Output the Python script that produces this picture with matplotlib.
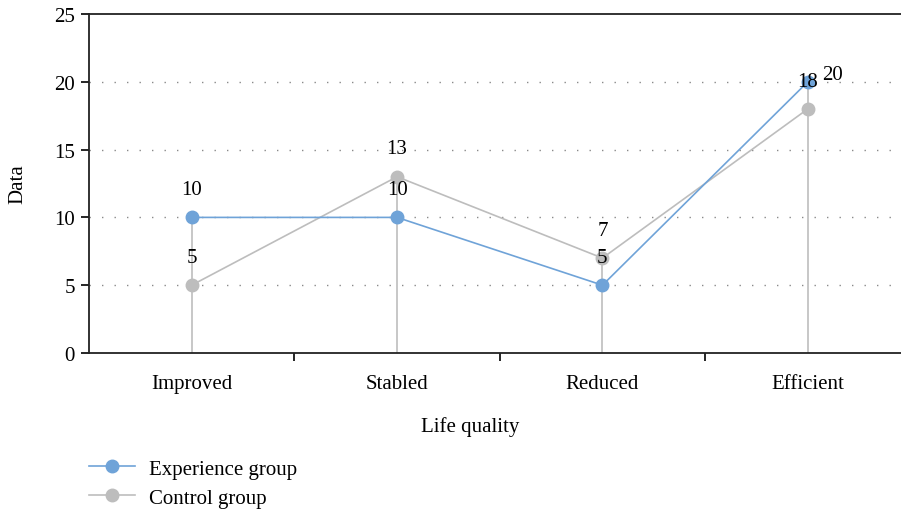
import matplotlib.pyplot as plt
import numpy as np

categories = ["Improved", "Stabled", "Reduced", "Efficient"]
experience = [10, 10, 5, 20]
control = [5, 13, 7, 18]
y_ticks = [0, 5, 10, 15, 20, 25]

blue = "#6fa3d8"
grey = "#bdbdbd"

plt.rcParams['font.family'] = ['Liberation Serif', 'DejaVu Serif']
plt.rcParams['font.size'] = 15

fig = plt.figure(figsize=(9.01, 5.10), dpi=100)
ax = fig.add_axes([89 / 901, 1 - 354 / 510, (910.5 - 89) / 901, (354 - 15) / 510])

x = np.arange(len(categories))

# high-low drop lines
ax.vlines(x, 0, np.maximum(experience, control), color=grey, lw=1.2, zorder=1)

ax.plot(x, control, color=grey, marker="o", ms=9, lw=1.2, label="Control group", zorder=2)
ax.plot(x, experience, color=blue, marker="o", ms=9, lw=1.2, label="Experience group", zorder=3)

for i in range(len(categories)):
    if i == 3:
        ax.annotate(str(experience[i]), (x[i], experience[i]), xytext=(18, 5),
                    textcoords="offset points", ha="center", va="center", zorder=5)
    else:
        ax.annotate(str(experience[i]), (x[i], experience[i]), xytext=(0, 20),
                    textcoords="offset points", ha="center", va="center", zorder=5)
    ax.annotate(str(control[i]), (x[i], control[i]), xytext=(0, 20),
                textcoords="offset points", ha="center", va="center", zorder=5)

ax.set_xlim(-0.5, 3.5)
ax.set_ylim(0, 25)
ax.set_yticks(y_ticks)
ax.set_xticks(x)
ax.set_xticklabels(categories)
ax.set_xticks(x[:-1] + 0.5, minor=True)
ax.tick_params(axis="x", which="major", length=0, pad=15)
ax.tick_params(axis="x", which="minor", length=6, width=1.2, direction="out")
ax.tick_params(axis="y", length=6, width=1.2, direction="out", pad=4)

for yv in y_ticks[1:-1]:
    ax.axhline(yv, color="#8a8a8a", lw=1, ls=(0, (1, 8)), zorder=0)

ax.spines["right"].set_visible(False)
for s in ["left", "bottom", "top"]:
    ax.spines[s].set_linewidth(1.3)
    ax.spines[s].set_color("#222222")

fig.text(18 / 901, 1 - 184 / 510, "Data", rotation=90, ha="center", va="center")
fig.text(470 / 901, 1 - 427 / 510, "Life quality", ha="center", va="center")

handles, labels = ax.get_legend_handles_labels()
fig.legend(handles[::-1], labels[::-1], loc="upper left",
           bbox_to_anchor=(89 / 901, 1 - 460 / 510), frameon=False,
           handlelength=2.2, labelspacing=0.45, handletextpad=0.7, borderaxespad=0,
           borderpad=0)

fig.savefig("out.png", dpi=100)
